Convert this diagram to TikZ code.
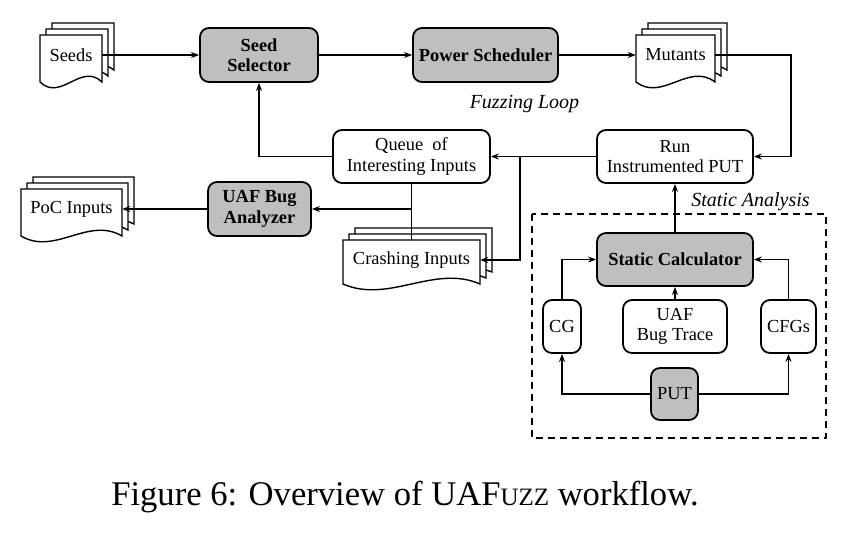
\documentclass[tikz,border=0pt]{standalone}
\usepackage{fontspec}
\setmainfont{Liberation Serif}
\usetikzlibrary{arrows.meta,calc}
\newcommand\pagepath[4]{% x1 y1 x2 yb
  \filldraw[docline] (#1,#2) -- (#3,#2) -- (#3,#4)
    .. controls ({#3-(#3-#1)/3},{#4-20}) and ({#1+(#3-#1)/3},{#4+20}) .. (#1,#4) -- cycle;}
\newcommand\docstack[4]{%
  \pagepath{#1+12}{#2-12}{#3+12}{#4-12}
  \pagepath{#1+6}{#2-6}{#3+6}{#4-6}
  \pagepath{#1}{#2}{#3}{#4}}
\begin{document}
\begin{tikzpicture}[x=1pt,y=-1pt,
  every node/.style={font=\fontsize{18.4}{20.5}\selectfont},
  box/.style={draw, line width=1.8pt, rounded corners=9pt, align=center, inner sep=0pt, fill=white},
  gbox/.style={box, fill=gray!50, font=\fontsize{18.4}{20.5}\selectfont\bfseries},
  docline/.style={draw, fill=white, line width=1.4pt},
  doctext/.style={inner sep=0pt, minimum height=20pt},
  lbl/.style={font=\fontsize{20}{22}\selectfont\itshape},
  arr/.style={line width=1.3pt, -{Stealth[length=8pt,width=6pt]}},
  plain/.style={line width=1.3pt}]
\useasboundingbox (0,0) rectangle (853,533);

% document stacks
\docstack{40}{35}{102}{82}
\docstack{636}{35}{715}{82}
\docstack{343}{240}{480}{284}
\docstack{21}{189}{122}{236}

\node[doctext, minimum width=62pt] (seeds) at (71,55) {Seeds};
\node[doctext, minimum width=79pt] (mut) at (675.5,55) {Mutants};
\node[doctext, minimum width=137pt] (crash) at (411.5,260) {Crashing Inputs};
\node[doctext, minimum width=101pt] (poc) at (71.5,209) {PoC Inputs};

% boxes
\node[gbox, minimum width=118pt, minimum height=54pt] (sel) at (259,55) {Seed\\Selector};
\node[gbox, minimum width=145pt, minimum height=54pt] (pow) at (485.5,55) {Power Scheduler};
\node[box, minimum width=156pt, minimum height=53pt] (run) at (675,156.5) {Run\\Instrumented PUT};
\node[box, minimum width=157pt, minimum height=53pt] (queue) at (411.5,156.5) {Queue\ \ of\\Interesting Inputs};
\node[gbox, minimum width=103pt, minimum height=54pt] (uaf) at (259.5,209) {UAF Bug\\Analyzer};
\node[gbox, minimum width=156pt, minimum height=53pt] (calc) at (675,259.5) {Static Calculator};
\node[box, minimum width=104pt, minimum height=53pt] (trace) at (675,326.5) {UAF\\Bug Trace};
\node[box, minimum width=38pt, minimum height=53pt] (cg) at (562,326.5) {CG};
\node[box, minimum width=55pt, minimum height=53pt] (cfg) at (788.5,326.5) {CFGs};
\node[box, fill=gray!50, minimum width=47pt, minimum height=52pt] (put) at (674.5,394) {PUT};

% labels
\node[lbl] (fl) at (524.5,104) {Fuzzing Loop};
\node[lbl] (sa) at (750.5,202) {Static Analysis};
\draw[line width=1.1pt, dash pattern=on 7pt off 5pt] (532,214) rectangle (826,438);

% connectors
\coordinate (mr) at (791,55);
\coordinate (j1) at (520,156.5);
\coordinate (ctop) at (411.5,240);
\draw[arr] (seeds.east) -- (sel.west);
\draw[arr] (sel.east) -- (pow.west);
\draw[arr] (pow.east) -- (mut.west);
\draw[arr] (mut.east) -- (mr) |- (run.east);
\draw[arr] (run.west) -- (queue.east);
\draw[arr] (queue.west) -| (sel.south);
\draw[arr] (j1) |- (crash.east);
\draw[plain] (queue.south) -- (ctop);
\draw[arr] (queue.south |- uaf.east) -- (uaf.east);
\draw[arr] (uaf.west) -- (poc.east);
\draw[arr] (calc.north) -- (run.south);
\draw[arr] (trace.north) -- (calc.south);
\draw[arr] (cg.north) |- (calc.west);
\draw[arr] (cfg.north) |- (calc.east);
\draw[arr] (put.west) -| (cg.south);
\draw[arr] (put.east) -| (cfg.south);

% caption
\node[font=\fontsize{34.6}{40}\selectfont, anchor=base] (cap) at (405,505)
  {Figure 6: Overview of UAF{\fontsize{25}{30}\selectfont UZZ} workflow.};
\end{tikzpicture}
\end{document}
